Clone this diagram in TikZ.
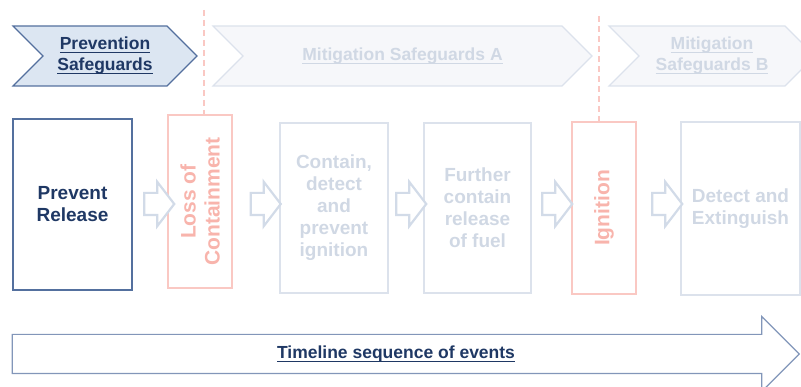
\documentclass[tikz,border=0pt]{standalone}
\usepackage{fontspec}
\setmainfont{Liberation Sans}
\usepackage{tikz}
\usetikzlibrary{shapes, arrows.meta, positioning, calc}
\definecolor{navy}{RGB}{31, 56, 100}
\definecolor{steel}{RGB}{84, 112, 158}
\definecolor{paleblue}{RGB}{220, 230, 242}
\definecolor{fadeline}{RGB}{220, 226, 236}
\definecolor{fadetext}{RGB}{208, 216, 228}
\definecolor{fadefill}{RGB}{246, 247, 250}
\definecolor{fadered}{RGB}{250, 200, 195}
\definecolor{fadetxtred}{RGB}{248, 180, 172}
\definecolor{pushcol}{RGB}{210, 219, 232}
\definecolor{timecol}{RGB}{130, 150, 185}
\newcommand{\sgul}[1]{\leavevmode\setbox0\hbox{#1}\rlap{\rule[-3.5pt]{\wd0}{1.4pt}}\box0}

\begin{document}
\begin{tikzpicture}[x=1pt, y=-1pt,
	phase/.style={signal, signal from=west, signal to=east, signal pointer angle=90,
		minimum height=60, inner sep=0pt, align=center, line width=1.2pt,
		font=\fontsize{17.5}{21}\selectfont\bfseries},
	box/.style={draw, rectangle, line width=1.2pt, align=center, inner sep=0pt,
		font=\fontsize{19}{22}\selectfont\bfseries},
	fadebox/.style={box, draw=fadeline, text=fadetext},
	eventbox/.style={box, draw=fadered, text=fadetxtred, rotate=90, minimum height=64,
		font=\fontsize{21}{24}\selectfont\bfseries},
	pusharrow/.style={single arrow, draw=pushcol, fill=white, line width=2.2pt,
		minimum height=30, text height=0pt, text depth=0pt, inner xsep=0pt, inner ysep=10pt,
		single arrow head extend=11pt, single arrow tip angle=105},
	cutline/.style={draw=fadered, line width=1.2pt, dash pattern=on 6pt off 4pt}
	]
	\useasboundingbox (0,0) rectangle (801,387);

	% safeguard phases
	\node[phase, draw=steel, fill=paleblue, text=navy, minimum width=184] (prevsg) at (105,56)
		{\sgul{Prevention}\\\sgul{Safeguards}};
	\node[phase, draw=fadeline, fill=fadefill, text=fadetext, minimum width=379] (mitsga) at (402.5,56)
		{\sgul{Mitigation Safeguards A}};
	\node[phase, draw=fadeline, fill=fadefill, text=fadetext, minimum width=206] (mitsgb) at (712,56)
		{\sgul{Mitigation}\\\sgul{Safeguards B}};

	% barriers and events
	\node[box, draw=steel, text=navy, minimum width=119, minimum height=171] (prevent) at (72.5,204.5)
		{Prevent\\Release};
	\node[eventbox, minimum width=173] (loss) at (200,201.5) {Loss of\\Containment};
	\node[fadebox, minimum width=108, minimum height=170] (contain) at (334,208)
		{Contain,\\detect\\and\\prevent\\ignition};
	\node[fadebox, minimum width=107, minimum height=170] (further) at (477.5,208)
		{Further\\contain\\release\\of fuel};
	\node[eventbox, minimum width=172] (ignition) at (604,208) {Ignition};
	\node[fadebox, minimum width=119, minimum height=173] (detect) at (740.5,208.5)
		{Detect and\\Extinguish};

	% arrows between boxes
	\foreach \x [count=\i] in {155, 261.5, 407, 553, 663}
		\node[pusharrow] (push\i) at (\x,204) {};

	% dashed cuts at the events
	\coordinate (cut1) at (204,10);
	\coordinate (cut2) at (599,16);
	\draw[cutline] (cut1) -- (cut1 |- loss.east);
	\draw[cutline] (cut2) -- (cut2 |- ignition.east);

	% timeline
	\node[single arrow, draw=timecol, line width=1.2pt, minimum height=787,
		text height=12.5pt, text depth=3.5pt, inner xsep=0pt, inner ysep=11pt,
		single arrow head extend=18pt, text=navy,
		font=\fontsize{17.5}{21}\selectfont\bfseries] (timeline) at (396,354)
		{\sgul{Timeline sequence of events}};
\end{tikzpicture}
\end{document}
